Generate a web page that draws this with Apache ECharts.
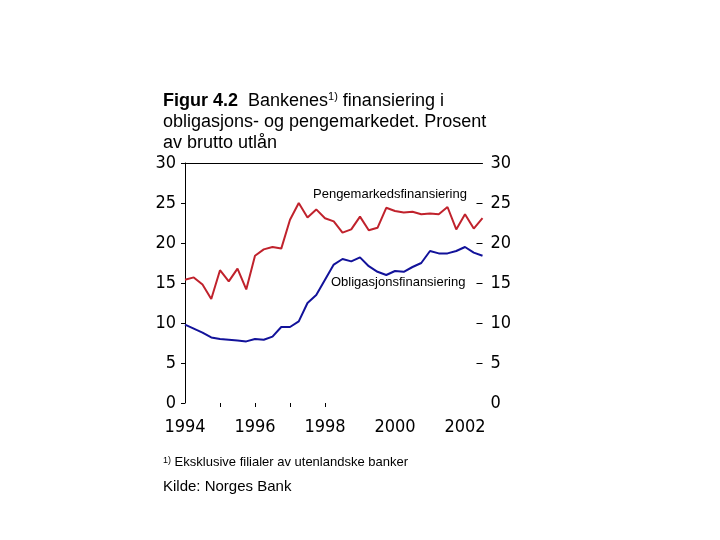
<!DOCTYPE html>
<html>
<head>
<meta charset="utf-8">
<script src="https://cdn.jsdelivr.net/npm/echarts@6/dist/echarts.min.js"></script>
<style>
  html, body { margin: 0; padding: 0; background: #fff; }
  #chart { width: 720px; height: 540px; }
</style>
</head>
<body>
<div id="chart"></div>
<script>
// Kvartalsdata 1994K1 - 2002K3
var years = [1994, 1995, 1996, 1997, 1998, 1999, 2000, 2001, 2002];
var quarters = [];
years.forEach(function (y) {
    for (var q = 1; q <= 4; q++) quarters.push(y + 'K' + q);
});
quarters = quarters.slice(0, 35);

var pengemarked = [15.4, 15.7, 14.8, 13.0, 16.6, 15.2, 16.8, 14.2, 18.4, 19.2,
    19.5, 19.3, 22.9, 25.0, 23.2, 24.2, 23.1, 22.7, 21.3, 21.7,
    23.3, 21.6, 21.9, 24.4, 24.0, 23.8, 23.9, 23.6, 23.7, 23.6,
    24.5, 21.7, 23.6, 21.8, 23.1];

var obligasjon = [9.8, 9.3, 8.8, 8.2, 8.0, 7.9, 7.8, 7.7, 8.0, 7.9,
    8.3, 9.5, 9.5, 10.2, 12.5, 13.5, 15.4, 17.3, 18.0, 17.7,
    18.2, 17.1, 16.4, 16.0, 16.5, 16.4, 17.0, 17.5, 19.0, 18.7,
    18.7, 19.0, 19.5, 18.8, 18.4];

var yTicks = [0, 5, 10, 15, 20, 25, 30];

var narrow = "'Liberation Sans Narrow', 'Arial Narrow', 'DejaVu Sans Condensed', 'Liberation Sans', sans-serif";
var sans = "'Liberation Sans', Arial, sans-serif";

var myChart = echarts.init(document.getElementById('chart'));

var option = {
    backgroundColor: '#fff',
    animation: false,
    title: {
        text: '{b|Figur 4.2}  Bankenes{sup|1)} finansiering i\nobligasjons- og pengemarkedet. Prosent\nav brutto utlån',
        left: 163,
        top: 91,
        padding: 0,
        textStyle: {
            fontFamily: sans,
            fontSize: 18,
            fontWeight: 'normal',
            color: '#000',
            lineHeight: 21,
            rich: {
                b: { fontFamily: sans, fontSize: 18, fontWeight: 'bold', color: '#000', lineHeight: 21 },
                sup: { fontFamily: sans, fontSize: 11, color: '#000', verticalAlign: 'top', lineHeight: 14 }
            }
        }
    },
    grid: { left: 185, top: 163, width: 297.5, height: 240 },
    xAxis: [
        {
            type: 'category',
            data: quarters,
            boundaryGap: false,
            axisLine: { show: false },
            axisTick: {
                show: true,
                length: 4,
                lineStyle: { color: '#000' },
                interval: function (index) { return index > 0 && index <= 16 && index % 4 === 0; }
            },
            axisLabel: {
                interval: function (index) { return index % 8 === 0; },
                formatter: function (v) { return v.slice(0, 4); },
                color: '#000',
                fontFamily: narrow,
                fontSize: 18,
                margin: 15
            },
            splitLine: { show: false }
        },
        {
            type: 'category',
            data: quarters,
            boundaryGap: false,
            position: 'top',
            axisLine: { show: true, onZero: false, lineStyle: { color: '#000', width: 1 } },
            axisTick: { show: false },
            axisLabel: { show: false }
        }
    ],
    yAxis: [
        {
            type: 'value',
            min: 0,
            max: 30,
            interval: 5,
            position: 'left',
            axisLine: { show: true, onZero: false, lineStyle: { color: '#000', width: 1 } },
            axisTick: { show: true, length: 4, lineStyle: { color: '#000' } },
            axisLabel: { color: '#000', fontFamily: narrow, fontSize: 18, margin: 9 },
            splitLine: { show: false }
        },
        {
            type: 'value',
            min: 0,
            max: 30,
            interval: 5,
            position: 'right',
            axisLine: { show: false, onZero: false },
            axisTick: {
                show: true,
                inside: true,
                length: 6,
                customValues: yTicks.slice(1, 6),
                lineStyle: { color: '#000' }
            },
            axisLabel: { color: '#000', fontFamily: narrow, fontSize: 18, margin: 8 },
            splitLine: { show: false }
        }
    ],
    graphic: [
        {
            type: 'text',
            left: 313, top: 188,
            style: { text: 'Pengemarkedsfinansiering', font: '13px ' + sans, fill: '#000' }
        },
        {
            type: 'text',
            left: 331, top: 276,
            style: { text: 'Obligasjonsfinansiering', font: '13px ' + sans, fill: '#000' }
        },
        {
            type: 'text',
            left: 163, top: 456,
            style: {
                text: '{sup|1)} Eksklusive filialer av utenlandske banker',
                font: '13px ' + sans,
                fill: '#000',
                rich: {
                    sup: { fontFamily: sans, fontSize: 9, fill: '#000', verticalAlign: 'top', lineHeight: 10 }
                }
            }
        },
        {
            type: 'text',
            left: 163, top: 479,
            style: { text: 'Kilde: Norges Bank', font: '15px ' + sans, fill: '#000' }
        }
    ],
    series: [
        {
            name: 'Pengemarkedsfinansiering',
            type: 'line',
            data: pengemarked,
            showSymbol: false,
            lineStyle: { color: '#c0222c', width: 2 },
            itemStyle: { color: '#c0222c' }
        },
        {
            name: 'Obligasjonsfinansiering',
            type: 'line',
            data: obligasjon,
            showSymbol: false,
            lineStyle: { color: '#12129a', width: 2 },
            itemStyle: { color: '#12129a' }
        }
    ]
};

myChart.setOption(option);
</script>
</body>
</html>
